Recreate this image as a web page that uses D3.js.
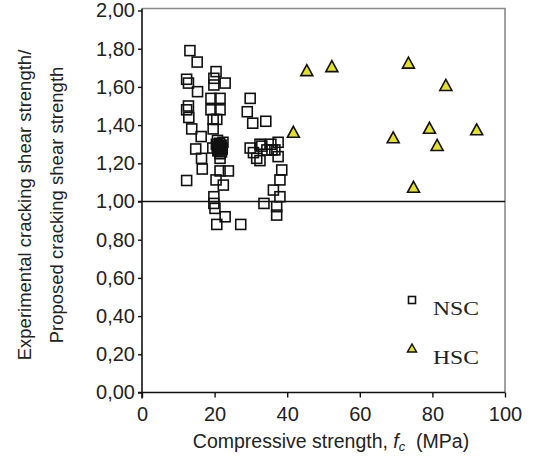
<!DOCTYPE html>
<html><head><meta charset="utf-8">
<script src="https://cdn.jsdelivr.net/npm/d3@7"></script>
<style>html,body{margin:0;padding:0;background:#fff;}svg{display:block;}</style>
</head><body><svg id="c" width="540" height="466"></svg>
<script>
// NSC data: compressive strength (MPa), ratio
const nscFc = [13.2,15.2,12.3,12.8,15.3,20.4,19.8,19.8,22.9,12.8,12.3,12.9,19.0,21.5,19.0,21.5,19.6,20.6,19.6,13.7,16.3,29.8,29.0,30.5,34.1,29.8,14.8,16.4,16.6,12.3,21.5,20.5,21.0,22.0,21.5,20.8,22.3,19.5,21.5,21.5,23.8,20.4,22.4,19.8,19.8,20.1,22.9,20.6,27.2,30.7,31.6,32.5,33.6,33.0,34.4,35.8,32.5,35.5,37.5,36.6,37.5,38.5,38.0,36.2,38.0,37.1,37.1,21.2,21.8,20.9,22.1,21.4,20.7,21.9];
const nscRatio = [1.79,1.73,1.64,1.62,1.575,1.68,1.645,1.61,1.62,1.50,1.48,1.44,1.54,1.54,1.48,1.48,1.43,1.43,1.38,1.38,1.34,1.54,1.47,1.41,1.42,1.28,1.275,1.226,1.17,1.11,1.29,1.30,1.27,1.28,1.25,1.32,1.31,1.28,1.226,1.16,1.16,1.113,1.086,1.025,0.99,0.964,0.92,0.88,0.88,1.256,1.226,1.214,0.99,1.29,1.27,1.27,1.30,1.30,1.31,1.27,1.235,1.165,1.113,1.06,1.025,0.973,0.929,1.285,1.295,1.265,1.275,1.305,1.29,1.26];
// HSC data
const hscFc = [45.4,52.3,73.4,83.7,41.7,69.2,79.2,81.3,92.2,74.8];
const hscRatio = [1.688,1.709,1.727,1.61,1.365,1.336,1.386,1.296,1.378,1.077];
const xTicks = [0,20,40,60,80,100];
const yTicks = [0,0.2,0.4,0.6,0.8,1.0,1.2,1.4,1.6,1.8,2.0];
const legendLabels = ["NSC","HSC"];

const svg = d3.select("#c");
const x = d3.scaleLinear().domain([0,100]).range([142,505]);
const y = d3.scaleLinear().domain([0,2]).range([392.5,10.5]);
const fmt = d => d.toFixed(2).replace(".", ",");
const sans = "'Liberation Sans', Arial, sans-serif";

// frame (top & right, grey)
svg.append("path").attr("d", `M${x(0)},${y(2)-2}H${x(100)}V${y(0)}`)
  .attr("fill","none").attr("stroke","#8a8a8a").attr("stroke-width",1.6);

// y axis
const ya = svg.append("g").attr("transform",`translate(${x(0)},0)`)
  .call(d3.axisLeft(y).tickValues(yTicks).tickFormat(fmt).tickSize(4).tickPadding(3).tickSizeOuter(0));
ya.select(".domain").attr("stroke","#111").attr("stroke-width",1.6).attr("d",`M0,${y(2)-2}V${y(0)+6}`);
ya.selectAll(".tick line").attr("stroke","#111").attr("stroke-width",1.4);
ya.selectAll("text").attr("font-family",sans).attr("font-size",20).attr("fill","#222");

// x axis
const xa = svg.append("g").attr("transform",`translate(0,${y(0)})`)
  .call(d3.axisBottom(x).tickValues(xTicks).tickFormat(d3.format("d")).tickSize(5).tickPadding(9).tickSizeOuter(0));
xa.select(".domain").attr("stroke","#111").attr("stroke-width",1.6).attr("d",`M${x(0)-4},0H${x(100)}`);
xa.selectAll(".tick line").attr("stroke","#111").attr("stroke-width",1.4);
xa.selectAll("text").attr("font-family",sans).attr("font-size",20).attr("fill","#222");

// reference line at 1.00
svg.append("line").attr("x1",x(0)-4).attr("x2",x(100)).attr("y1",y(1)).attr("y2",y(1))
  .attr("stroke","#111").attr("stroke-width",1.6);

// NSC squares
const s = 10;
svg.append("g").selectAll("rect").data(nscFc.map((f,i)=>[f,nscRatio[i]])).join("rect")
  .attr("x",d=>x(d[0])-s/2).attr("y",d=>y(d[1])-s/2).attr("width",s).attr("height",s)
  .attr("fill","none").attr("stroke","#111").attr("stroke-width",1.6);

// HSC triangles
const tri = (w,h) => `M0,${-h/2}L${w/2},${h/2}L${-w/2},${h/2}Z`;
svg.append("g").selectAll("path").data(hscFc.map((f,i)=>[f,hscRatio[i]])).join("path")
  .attr("transform",d=>`translate(${x(d[0])},${y(d[1])})`).attr("d",tri(12,11))
  .attr("fill","#e3df2a").attr("stroke","#111").attr("stroke-width",1.6).attr("stroke-linejoin","miter");

// legend
const lg = svg.append("g");
lg.append("rect").attr("x",408.5).attr("y",296.5).attr("width",7).attr("height",7)
  .attr("fill","none").attr("stroke","#111").attr("stroke-width",1.6);
lg.append("path").attr("transform","translate(412,348)").attr("d",tri(9,8))
  .attr("fill","#e3df2a").attr("stroke","#111").attr("stroke-width",1.5);
lg.selectAll("text").data(legendLabels).join("text")
  .attr("x",433).attr("y",(d,i)=>315+i*49).text(d=>d)
  .attr("textLength",46).attr("lengthAdjust","spacingAndGlyphs")
  .attr("font-family","'Liberation Serif', 'Times New Roman', serif").attr("font-size",18).attr("fill","#222");

// axis titles
const xt = svg.append("text").attr("x",331).attr("y",448).attr("text-anchor","middle")
  .attr("font-family",sans).attr("font-size",19.5).attr("fill","#222");
xt.append("tspan").text("Compressive strength, ");
xt.append("tspan").attr("font-style","italic").text("f");
xt.append("tspan").attr("font-style","italic").attr("font-size",13).attr("dy",3).text("c");
xt.append("tspan").attr("dy",-3).text("\u00a0 (MPa)");

const yt = svg.append("text").attr("transform","translate(0,205) rotate(-90)").attr("text-anchor","middle")
  .attr("font-family",sans).attr("font-size",18.5).attr("fill","#222");
yt.append("tspan").attr("x",0).attr("y",31).text("Experimental cracking shear strength/");
yt.append("tspan").attr("x",0).attr("y",63).text("Proposed cracking shear strength");
</script></body></html>
